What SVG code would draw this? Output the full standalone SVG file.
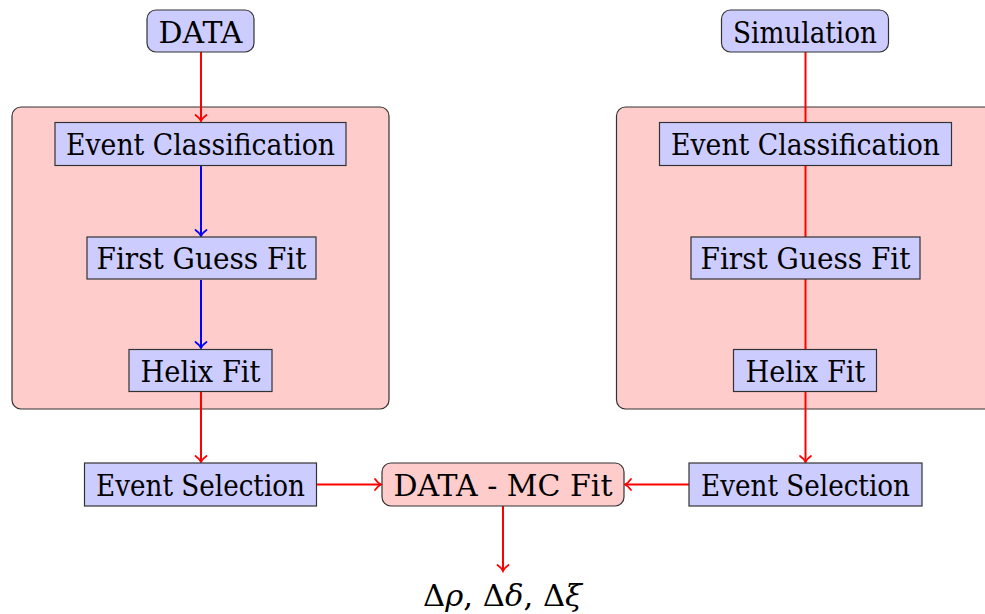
<svg xmlns="http://www.w3.org/2000/svg" width="985" height="614" viewBox="0 0 985 614">
<style>
.blue{fill:#ccccff;stroke:#333;stroke-width:1.2}
.pink{fill:#ffcccc;stroke:#333;stroke-width:1.2}
.t{font-family:'DejaVu Serif','Liberation Serif',serif;font-size:29px;fill:#000;text-anchor:middle}
.r{stroke:#ff0000;stroke-width:2;fill:none}
.b{stroke:#0000ff;stroke-width:2;fill:none}
</style>
<defs>
<marker id="ar" markerUnits="userSpaceOnUse" viewBox="-8 -7 10 14" markerWidth="10" markerHeight="14" refX="0" refY="0" orient="auto" overflow="visible">
<path d="M-6,-5.5 C-3.5,-2 -1.5,-0.7 0,0 C-1.5,0.7 -3.5,2 -6,5.5" fill="none" stroke="#ff0000" stroke-width="1.8" stroke-linecap="round"/>
</marker>
<marker id="ab" markerUnits="userSpaceOnUse" viewBox="-8 -7 10 14" markerWidth="10" markerHeight="14" refX="0" refY="0" orient="auto" overflow="visible">
<path d="M-6,-5.5 C-3.5,-2 -1.5,-0.7 0,0 C-1.5,0.7 -3.5,2 -6,5.5" fill="none" stroke="#0000ff" stroke-width="1.8" stroke-linecap="round"/>
</marker>
</defs>
<rect width="985" height="614" fill="#fff"/>
<g id="containers">
<rect class="pink" x="12" y="107" width="377" height="302" rx="9"/>
<rect class="pink" x="616.5" y="107" width="390" height="302" rx="9"/>
</g>
<g id="connectors">
<line class="r" x1="201" y1="52" x2="201" y2="121" marker-end="url(#ar)"/>
<line class="b" x1="201" y1="166" x2="201" y2="236" marker-end="url(#ab)"/>
<line class="b" x1="201" y1="280" x2="201" y2="348" marker-end="url(#ab)"/>
<line class="r" x1="201" y1="392" x2="201" y2="462" marker-end="url(#ar)"/>
<line class="r" x1="805.5" y1="52" x2="805.5" y2="349"/>
<line class="r" x1="805.5" y1="392" x2="805.5" y2="462" marker-end="url(#ar)"/>
<line class="r" x1="317" y1="484.5" x2="381" y2="484.5" marker-end="url(#ar)"/>
<line class="r" x1="689" y1="484.5" x2="625" y2="484.5" marker-end="url(#ar)"/>
<line class="r" x1="503" y1="506" x2="503" y2="571" marker-end="url(#ar)"/>
</g>
<g id="data">
<rect class="blue" x="147" y="10" width="107" height="42" rx="9"/>
<text class="t" x="200.5" y="43" textLength="84" lengthAdjust="spacingAndGlyphs">DATA</text>
</g>
<g id="simulation">
<rect class="blue" x="721.5" y="10" width="167" height="42" rx="9"/>
<text class="t" x="805" y="43" textLength="144" lengthAdjust="spacingAndGlyphs">Simulation</text>
</g>
<g id="ec-left">
<rect class="blue" x="55" y="122.5" width="291" height="43"/>
<text class="t" x="200.5" y="155" textLength="269" lengthAdjust="spacingAndGlyphs">Event Classification</text>
</g>
<g id="fg-left">
<rect class="blue" x="87" y="237" width="229" height="42"/>
<text class="t" x="201.5" y="269" textLength="210" lengthAdjust="spacingAndGlyphs">First Guess Fit</text>
</g>
<g id="hf-left">
<rect class="blue" x="129" y="349.5" width="143" height="42"/>
<text class="t" x="200.5" y="382" textLength="120" lengthAdjust="spacingAndGlyphs">Helix Fit</text>
</g>
<g id="es-left">
<rect class="blue" x="84.5" y="463" width="232" height="43"/>
<text class="t" x="200.5" y="496" textLength="209" lengthAdjust="spacingAndGlyphs">Event Selection</text>
</g>
<g id="ec-right">
<rect class="blue" x="659.5" y="122.5" width="292" height="43"/>
<text class="t" x="805.5" y="155" textLength="269" lengthAdjust="spacingAndGlyphs">Event Classification</text>
</g>
<g id="fg-right">
<rect class="blue" x="691" y="237" width="229" height="42"/>
<text class="t" x="805.5" y="269" textLength="210" lengthAdjust="spacingAndGlyphs">First Guess Fit</text>
</g>
<g id="hf-right">
<rect class="blue" x="733.5" y="349.5" width="143" height="42"/>
<text class="t" x="805.5" y="382" textLength="120" lengthAdjust="spacingAndGlyphs">Helix Fit</text>
</g>
<g id="es-right">
<rect class="blue" x="689" y="463" width="233" height="43"/>
<text class="t" x="805.5" y="496" textLength="209" lengthAdjust="spacingAndGlyphs">Event Selection</text>
</g>
<g id="fit">
<rect class="pink" x="382" y="463" width="242" height="43" rx="9"/>
<text class="t" x="503" y="496" textLength="219" lengthAdjust="spacingAndGlyphs">DATA - MC Fit</text>
</g>
<g id="result">
<text class="t" x="502.5" y="606" textLength="159" lengthAdjust="spacingAndGlyphs">Δ<tspan font-style="italic">ρ</tspan>, Δ<tspan font-style="italic">δ</tspan>, Δ<tspan font-style="italic">ξ</tspan></text>
</g>
</svg>
